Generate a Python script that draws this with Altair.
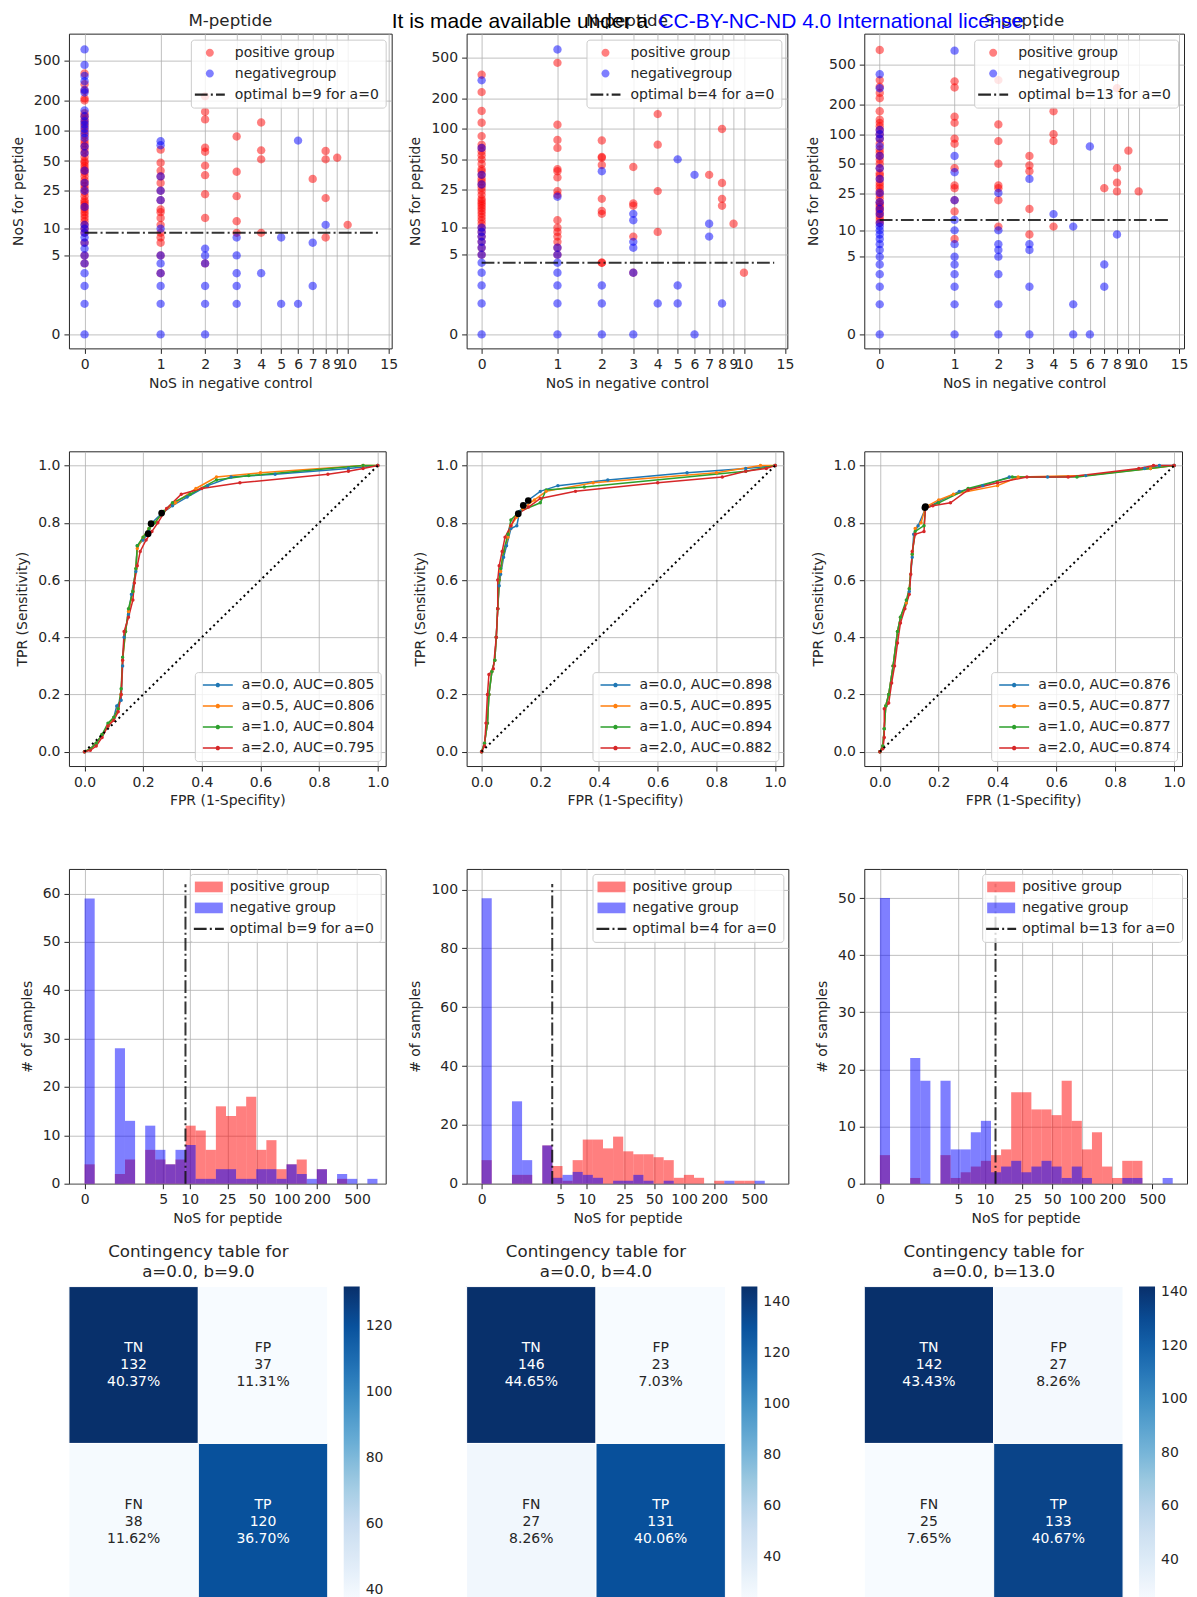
import math
import altair as alt
import pandas as pd

FONT = "DejaVu Sans"
INK = "#262626"
RED_A = "rgba(255,0,0,0.5)"
BLUE_A = "rgba(0,0,255,0.5)"
LINE_C = "rgba(0,0,0,0.85)"
TAB = ["#1f77b4", "#ff7f0e", "#2ca02c", "#d62728"]
BLUES = ["#f7fbff", "#deebf7", "#c6dbef", "#9ecae1", "#6baed6",
         "#4292c6", "#2171b5", "#08519c", "#08306b"]
DASHDOT = [12.8, 3.2, 2, 3.2]
DOTTED = [2, 3.3]

CIRCLE_PATH = "M0.8,0A0.8,0.8,0,1,1,-0.8,0A0.8,0.8,0,1,1,0.8,0Z"
DASHDOT_PATH = "M-3,-0.23H-0.44V0.23H-3Z M0.2,-0.23H0.6V0.23H0.2Z M1.24,-0.23H3V0.23H1.24Z"
PATCH_PATH = "M-2.8,-1.07H2.8V1.07H-2.8Z"
ROC_SYMBOL = "M-3,0H3M0.3,0A0.3,0.3,0,1,1,-0.3,0A0.3,0.3,0,1,1,0.3,0"

PEPTIDES = ["M-peptide", "N-peptide", "S-peptide"]
OPT_B = [9, 4, 13]
HLINE_X_END = 13.5

# ---------------- Row 1: scatter data  {NoS in negative control: [NoS for peptide]} -------------
M_POS = {0: [4, 5, 7, 9, 10, 11, 12, 13, 14, 15, 16, 17, 18, 19, 20, 22, 24, 26, 28, 30, 32, 35, 38, 40,
             42, 45, 48, 50, 55, 60, 65, 70, 75, 80, 90, 100, 110, 120, 130, 140, 150, 200, 210, 250, 290, 370],
         1: [3, 5, 7, 8, 9, 11, 13, 15, 16, 20, 25, 30, 35, 40, 48, 65],
         2: [4, 13, 23, 36, 45, 62, 68, 130, 155, 220],
         3: [9, 12, 22, 39, 88],
         4: [9, 52, 64, 121],
         7: [33],
         8: [8, 21, 52, 63],
         9: [54],
         10: [11]}
M_NEG = {0: [0, 1, 2, 3, 4, 5, 6, 7, 8, 9, 10, 11, 17, 25, 30, 40, 60, 70, 85, 95, 105, 115, 125, 140,
             160, 240, 255, 310, 350, 450, 640],
         1: [0, 1, 2, 3, 4, 5, 10, 20, 25, 35, 72, 79],
         2: [0, 1, 2, 4, 5, 6],
         3: [1, 2, 3, 5, 8],
         4: [3],
         5: [1, 8],
         6: [1, 80],
         7: [2, 7],
         8: [11]}
N_POS = {0: [5, 6, 7, 8, 9, 10, 11, 12, 13, 14, 15, 16, 17, 18, 19, 20, 22, 24, 26, 28, 30, 32, 35, 38,
             40, 45, 50, 55, 60, 65, 70, 85, 115, 150, 230, 340],
         1: [5, 6, 7, 8, 9, 10, 12, 22, 24, 33, 38, 40, 65, 78, 110, 445],
         2: [4, 4, 14, 15, 20, 44, 52, 53, 77],
         3: [3, 8, 17, 18, 42],
         4: [9, 24, 70, 140],
         7: [35],
         8: [17, 20, 29, 100],
         9: [11],
         10: [3]}
N_NEG = {0: [0, 1, 2, 3, 4, 5, 6, 7, 8, 9, 10, 28, 35, 65, 300],
         1: [0, 1, 2, 3, 4, 5, 6, 21, 600],
         2: [0, 1, 2, 38],
         3: [0, 3, 6, 7, 12, 14],
         4: [1],
         5: [1, 2, 50],
         6: [0, 35],
         7: [8, 11],
         8: [1]}
S_POS = {0: [12, 13, 14, 15, 16, 17, 18, 19, 20, 22, 24, 26, 28, 30, 32, 35, 38, 40, 45, 50, 55, 60, 65,
             70, 80, 90, 100, 110, 120, 130, 140, 170, 230, 260, 300, 350, 700],
         1: [8, 16, 21, 28, 30, 45, 80, 90, 130, 150, 295, 340],
         2: [11, 21, 28, 30, 50, 85, 125, 350],
         3: [9, 17, 42, 48, 60],
         4: [11, 85, 100, 170],
         7: [28],
         8: [26, 32, 45, 290],
         9: [68],
         10: [26]}
S_NEG = {0: [0, 1, 2, 3, 4, 5, 6, 7, 8, 9, 10, 11, 12, 15, 17, 20, 25, 35, 45, 60, 75, 90, 100, 110,
             290, 400],
         1: [0, 1, 2, 3, 4, 5, 7, 10, 13, 21, 41, 60, 690],
         2: [0, 1, 3, 5, 6, 7, 10, 25],
         3: [0, 2, 6, 7, 35],
         4: [15],
         5: [0, 1, 11],
         6: [0, 75],
         7: [2, 4],
         8: [9]}
SC_POS = [M_POS, N_POS, S_POS]
SC_NEG = [M_NEG, N_NEG, S_NEG]
SC_XTICKS = [0, 1, 2, 3, 4, 5, 6, 7, 8, 9, 10, 15]
SC_YTICKS = [0, 5, 10, 25, 50, 100, 200, 500]
SC_X_DOM = [[-0.153, 15.43], [-0.147, 15.35], [-0.154, 15.74]]
SC_Y_DOM = [[-0.373, 915], [-0.369, 858], [-0.38, 1022]]
SC_W = [323, 321, 320]

# ---------------- Row 2: ROC curves (FPR, TPR) ----------------
ROC_A = ["a=0.0", "a=0.5", "a=1.0", "a=2.0"]
AUC = [["0.805", "0.806", "0.804", "0.795"],
       ["0.898", "0.895", "0.894", "0.882"],
       ["0.876", "0.877", "0.877", "0.874"]]
M_ROC = [
    [(0, 0), (0.02, 0.01), (0.04, 0.03), (0.06, 0.06), (0.08, 0.09), (0.1, 0.12), (0.11, 0.16), (0.125, 0.18),
     (0.13, 0.3), (0.135, 0.4), (0.15, 0.48), (0.16, 0.55), (0.175, 0.63), (0.18, 0.72), (0.2, 0.74),
     (0.22, 0.77), (0.23, 0.8), (0.26, 0.83), (0.3, 0.86), (0.35, 0.89), (0.42, 0.93), (0.5, 0.96),
     (0.65, 0.97), (0.9, 0.99), (1, 1)],
    [(0, 0), (0.02, 0.01), (0.04, 0.03), (0.06, 0.06), (0.08, 0.09), (0.1, 0.12), (0.115, 0.15), (0.125, 0.2),
     (0.13, 0.32), (0.14, 0.42), (0.15, 0.49), (0.165, 0.56), (0.175, 0.64), (0.18, 0.71), (0.2, 0.75),
     (0.22, 0.78), (0.24, 0.8), (0.27, 0.84), (0.31, 0.87), (0.38, 0.92), (0.45, 0.96), (0.6, 0.975),
     (0.95, 1.0), (1, 1)],
    [(0, 0), (0.02, 0.01), (0.04, 0.03), (0.06, 0.06), (0.08, 0.1), (0.1, 0.12), (0.115, 0.15), (0.125, 0.22),
     (0.13, 0.33), (0.14, 0.42), (0.15, 0.5), (0.165, 0.56), (0.175, 0.64), (0.18, 0.72), (0.2, 0.75),
     (0.22, 0.78), (0.24, 0.8), (0.27, 0.84), (0.3, 0.87), (0.36, 0.9), (0.45, 0.95), (0.56, 0.965),
     (0.95, 1.0), (1, 1)],
    [(0, 0), (0.02, 0.005), (0.04, 0.02), (0.06, 0.05), (0.08, 0.09), (0.1, 0.11), (0.115, 0.14),
     (0.125, 0.2), (0.13, 0.32), (0.135, 0.42), (0.15, 0.47), (0.165, 0.53), (0.17, 0.59), (0.18, 0.65),
     (0.19, 0.7), (0.21, 0.74), (0.23, 0.77), (0.25, 0.8), (0.28, 0.85), (0.33, 0.9), (0.4, 0.92),
     (0.53, 0.94), (0.83, 0.97), (0.9, 0.98), (0.95, 0.99), (1, 1)],
]
N_ROC = [
    [(0, 0), (0.01, 0.03), (0.02, 0.1), (0.025, 0.2), (0.035, 0.28), (0.045, 0.32), (0.05, 0.4),
     (0.055, 0.5), (0.06, 0.58), (0.065, 0.62), (0.075, 0.68), (0.085, 0.72), (0.1, 0.78), (0.12, 0.79),
     (0.13, 0.84), (0.16, 0.88), (0.2, 0.91), (0.26, 0.93), (0.43, 0.95), (0.7, 0.975), (0.9, 0.99), (1, 1)],
    [(0, 0), (0.01, 0.03), (0.02, 0.1), (0.025, 0.2), (0.035, 0.28), (0.045, 0.32), (0.05, 0.4),
     (0.055, 0.5), (0.06, 0.6), (0.065, 0.63), (0.075, 0.7), (0.09, 0.75), (0.1, 0.79), (0.12, 0.82),
     (0.14, 0.85), (0.18, 0.88), (0.22, 0.91), (0.38, 0.94), (0.8, 0.975), (0.95, 1.0), (1, 1)],
    [(0, 0), (0.01, 0.03), (0.02, 0.1), (0.025, 0.2), (0.035, 0.28), (0.045, 0.32), (0.05, 0.4),
     (0.055, 0.5), (0.06, 0.6), (0.065, 0.64), (0.075, 0.7), (0.09, 0.76), (0.1, 0.81), (0.13, 0.84),
     (0.2, 0.87), (0.22, 0.915), (0.35, 0.925), (0.9, 0.98), (1, 1)],
    [(0, 0), (0.01, 0.02), (0.015, 0.1), (0.02, 0.2), (0.025, 0.27), (0.04, 0.29), (0.05, 0.4),
     (0.055, 0.5), (0.055, 0.6), (0.06, 0.65), (0.07, 0.7), (0.08, 0.75), (0.1, 0.79), (0.12, 0.83),
     (0.16, 0.855), (0.2, 0.885), (0.32, 0.91), (0.6, 0.94), (0.82, 0.96), (0.9, 0.98), (0.97, 0.99), (1, 1)],
]
S_ROC = [
    [(0, 0), (0.01, 0.02), (0.015, 0.08), (0.02, 0.16), (0.03, 0.2), (0.045, 0.3), (0.06, 0.42),
     (0.07, 0.47), (0.09, 0.52), (0.1, 0.56), (0.11, 0.68), (0.115, 0.76), (0.13, 0.79), (0.155, 0.85),
     (0.2, 0.875), (0.27, 0.91), (0.35, 0.93), (0.44, 0.96), (0.57, 0.96), (0.7, 0.965), (0.9, 0.99),
     (0.95, 1.0), (1, 1)],
    [(0, 0), (0.01, 0.02), (0.015, 0.08), (0.02, 0.16), (0.03, 0.2), (0.045, 0.3), (0.06, 0.42),
     (0.07, 0.47), (0.09, 0.52), (0.1, 0.57), (0.11, 0.69), (0.12, 0.78), (0.14, 0.8), (0.155, 0.855),
     (0.2, 0.88), (0.25, 0.9), (0.4, 0.93), (0.47, 0.96), (0.7, 0.965), (0.92, 0.99), (1, 1)],
    [(0, 0), (0.01, 0.02), (0.015, 0.08), (0.02, 0.16), (0.03, 0.2), (0.045, 0.3), (0.06, 0.42),
     (0.07, 0.47), (0.09, 0.53), (0.1, 0.57), (0.11, 0.69), (0.12, 0.77), (0.15, 0.79), (0.155, 0.85),
     (0.2, 0.87), (0.3, 0.92), (0.45, 0.96), (0.67, 0.96), (0.92, 0.99), (1, 1)],
    [(0, 0), (0.01, 0.01), (0.015, 0.05), (0.015, 0.15), (0.03, 0.17), (0.04, 0.24), (0.05, 0.3),
     (0.06, 0.38), (0.07, 0.45), (0.085, 0.5), (0.1, 0.55), (0.105, 0.62), (0.11, 0.7), (0.12, 0.76),
     (0.15, 0.77), (0.155, 0.85), (0.18, 0.86), (0.24, 0.87), (0.3, 0.915), (0.4, 0.94), (0.5, 0.96),
     (0.64, 0.96), (0.88, 0.99), (0.93, 1.0), (1, 1)],
]
ROC = [M_ROC, N_ROC, S_ROC]
ROC_OPT = [[(0.217, 0.762), (0.227, 0.797), (0.263, 0.834)],
           [(0.125, 0.832), (0.142, 0.861), (0.159, 0.878)],
           [(0.153, 0.853), (0.155, 0.857)]]
R_TICKS = [0.0, 0.2, 0.4, 0.6, 0.8, 1.0]
R_X_DOM = [[-0.053, 1.027], [-0.051, 1.028], [-0.053, 1.027]]
R_Y_DOM = [-0.05, 1.05]
R_W = [317, 317, 318]

# ---------------- Row 3: histograms (bins of equal width in log(1+NoS)) ----------------
BIN_W_LOG1P = 0.2305
M_HIST_POS = [4, 0, 0, 2, 5, 0, 7, 5, 4, 5, 12, 11, 7, 16, 14, 16, 18, 7, 9, 3, 4, 5, 0, 3, 0, 1, 0, 0, 0]
M_HIST_NEG = [59, 0, 0, 28, 13, 0, 12, 7, 4, 7, 8, 1, 1, 3, 3, 1, 1, 3, 3, 1, 4, 2, 1, 3, 0, 2, 1, 0, 1]
N_HIST_POS = [8, 0, 0, 3, 3, 0, 13, 6, 1, 8, 15, 15, 12, 16, 11, 10, 10, 9, 8, 2, 3, 2, 0, 1, 0, 1, 1, 0, 0]
N_HIST_NEG = [97, 0, 0, 28, 8, 0, 13, 2, 3, 4, 3, 2, 0, 1, 1, 3, 1, 0, 1, 0, 0, 0, 0, 0, 1, 0, 0, 1, 0]
S_HIST_POS = [5, 0, 0, 1, 0, 0, 5, 1, 2, 3, 4, 5, 6, 16, 16, 13, 13, 12, 18, 11, 6, 9, 3, 1, 4, 4, 0, 0, 0]
S_HIST_NEG = [50, 0, 0, 22, 18, 0, 18, 6, 6, 9, 11, 2, 3, 4, 2, 3, 4, 3, 1, 3, 1, 0, 0, 0, 1, 1, 0, 0, 1]
H_POS = [M_HIST_POS, N_HIST_POS, S_HIST_POS]
H_NEG = [M_HIST_NEG, N_HIST_NEG, S_HIST_NEG]
H_XTICKS = [0, 5, 10, 25, 50, 100, 200, 500]
H_YTICKS = [[0, 10, 20, 30, 40, 50, 60], [0, 20, 40, 60, 80, 100], [0, 10, 20, 30, 40, 50]]
H_X_DOM = [[-0.429, 964], [-0.408, 1086], [-0.429, 1107]]
H_Y_MAX = [65.1, 107.0, 55.1]
H_W = [317, 322, 323]

# ---------------- Row 4: contingency tables ----------------
CM_NAMES = ["TN", "FP", "FN", "TP"]
CM_VALUES = [[132, 37, 38, 120], [146, 23, 27, 131], [142, 27, 25, 133]]
CM_PCT = [["40.37%", "11.31%", "11.62%", "36.70%"],
          ["44.65%", "7.03%", "8.26%", "40.06%"],
          ["43.43%", "8.26%", "7.65%", "40.67%"]]
CM_B = ["9.0", "4.0", "13.0"]
CB_TICKS = [[40, 60, 80, 100, 120], [40, 60, 80, 100, 120, 140], [40, 60, 80, 100, 120, 140]]

LICENSE = [("It is made available under a", "#000000", -75),
           ("CC-BY-NC-ND 4.0 International license", "#0000ff", 192),
           (".", "#000000", 566)]

ROW_H = 315
ROW_GAP = 103
COL_GAP = 75
LICENSE_BASELINE = -6 - (ROW_H + ROW_GAP)   # relative to the second-row plot top


def box_legend(orient, **kw):
    base = dict(title=None, orient=orient, offset=6, symbolSize=100, symbolOffset=6, labelOffset=14,
                padding=6, rowPadding=7, fillColor="rgba(255,255,255,0.8)", strokeColor="#cccccc",
                cornerRadius=3, labelFontSize=14, labelColor=INK, labelLimit=0, symbolOpacity=1)
    base.update(kw)
    return alt.Legend(**base)


def scatter_cell(i):
    b = OPT_B[i]
    labels = ["positive group", "negativegroup", f"optimal b={b} for a=0"]
    rows = []
    for x, ys in SC_POS[i].items():
        rows += [{"x": x, "y": y, "g": labels[0]} for y in ys]
    for x, ys in SC_NEG[i].items():
        rows += [{"x": x, "y": y, "g": labels[1]} for y in ys]
    df = pd.DataFrame(rows)
    X = alt.X("x:Q", scale=alt.Scale(type="symlog", constant=1, domain=SC_X_DOM[i], nice=False, zero=False),
              axis=alt.Axis(values=SC_XTICKS, title="NoS in negative control"))
    Y = alt.Y("y:Q", scale=alt.Scale(type="symlog", constant=1, domain=SC_Y_DOM[i], nice=False, zero=False),
              axis=alt.Axis(values=SC_YTICKS, title="NoS for peptide"))
    leg = box_legend("top-right", symbolStrokeWidth=0, labelOffset=18)
    pts = alt.Chart(df).mark_point(filled=True, size=110, opacity=1, strokeWidth=0).encode(
        x=X, y=Y,
        color=alt.Color("g:N", scale=alt.Scale(domain=labels, range=[RED_A, BLUE_A, LINE_C]), legend=leg),
        shape=alt.Shape("g:N", scale=alt.Scale(domain=labels, range=[CIRCLE_PATH, CIRCLE_PATH, DASHDOT_PATH]),
                        legend=leg),
    )
    hline = alt.Chart(pd.DataFrame({"x": [0, HLINE_X_END], "y": [b, b]})).mark_line(
        color="#111111", opacity=0.85, strokeWidth=2, strokeDash=DASHDOT).encode(x=X, y=Y)
    return alt.layer(pts, hline).properties(
        width=SC_W[i], height=ROW_H, title=alt.TitleParams(PEPTIDES[i], offset=4))


def roc_cell(i):
    labels = [f"{a}, AUC={auc}" for a, auc in zip(ROC_A, AUC[i])]
    rows = []
    for j, curve in enumerate(ROC[i]):
        for k, (f, t) in enumerate(curve):
            rows.append({"fpr": f, "tpr": t, "c": labels[j], "k": k})
    df = pd.DataFrame(rows)
    X = alt.X("fpr:Q", scale=alt.Scale(domain=R_X_DOM[i], nice=False, zero=False),
              axis=alt.Axis(values=R_TICKS, format=".1f", title="FPR (1-Specifity)"))
    Y = alt.Y("tpr:Q", scale=alt.Scale(domain=R_Y_DOM, nice=False, zero=False),
              axis=alt.Axis(values=R_TICKS, format=".1f", title="TPR (Sensitivity)"))
    leg = box_legend("bottom-right", symbolType=ROC_SYMBOL, symbolStrokeWidth=1.5,
                     symbolOffset=10, labelOffset=17, offset=5)
    lines = alt.Chart(df).mark_line(strokeWidth=1.5, point=alt.OverlayMarkDef(filled=True, size=12)).encode(
        x=X, y=Y, order="k:Q",
        color=alt.Color("c:N", scale=alt.Scale(domain=labels, range=TAB), legend=leg),
    )
    diag = alt.Chart(pd.DataFrame({"fpr": [0, 1], "tpr": [0, 1]})).mark_line(
        color="black", strokeWidth=2, strokeDash=DOTTED).encode(x=X, y=Y)
    opt = alt.Chart(pd.DataFrame(ROC_OPT[i], columns=["fpr", "tpr"])).mark_point(
        filled=True, color="black", size=45, opacity=1).encode(x=X, y=Y)
    layers = [lines, diag, opt]
    if i == 1:
        # preprint licence banner at the very top of the page
        for txt, col, px in LICENSE:
            layers.append(alt.Chart(pd.DataFrame({"t": [txt]})).mark_text(
                align="left", baseline="alphabetic", font="Liberation Sans", fontSize=21, color=col
            ).encode(x=alt.value(px), y=alt.value(LICENSE_BASELINE), text="t:N"))
    return alt.layer(*layers).properties(width=R_W[i], height=ROW_H)


def hist_cell(i):
    b = OPT_B[i]
    labels = ["positive group", "negative group", f"optimal b={b} for a=0"]

    def bars(counts):
        rows = []
        for k, c in enumerate(counts):
            if c > 0:
                rows.append({"lo": math.expm1(k * BIN_W_LOG1P), "hi": math.expm1((k + 1) * BIN_W_LOG1P),
                             "n": c, "z": 0})
        return pd.DataFrame(rows)

    X = alt.X("lo:Q", scale=alt.Scale(type="symlog", constant=1, domain=H_X_DOM[i], nice=False, zero=False),
              axis=alt.Axis(values=H_XTICKS, title="NoS for peptide"))
    Y = alt.Y("n:Q", scale=alt.Scale(domain=[0, H_Y_MAX[i]], nice=False),
              axis=alt.Axis(values=H_YTICKS[i], title="# of samples"))
    pos = alt.Chart(bars(H_POS[i])).mark_rect(color=RED_A).encode(x=X, x2="hi:Q", y=Y, y2="z:Q")
    neg = alt.Chart(bars(H_NEG[i])).mark_rect(color=BLUE_A).encode(x=X, x2="hi:Q", y=Y, y2="z:Q")
    vmax = 1.05 * max(max(H_POS[i]), max(H_NEG[i]))
    vline = alt.Chart(pd.DataFrame({"lo": [b, b], "n": [0, vmax]})).mark_line(
        color="#111111", opacity=0.85, strokeWidth=2, strokeDash=DASHDOT).encode(x=X, y=Y)
    leg = box_legend("top-right", symbolStrokeWidth=0, offset=5)
    key = alt.Chart(pd.DataFrame({"g": labels})).mark_point(filled=True, opacity=1, clip=True).encode(
        x=alt.value(10), y=alt.value(-60),
        color=alt.Color("g:N", scale=alt.Scale(domain=labels, range=[RED_A, BLUE_A, LINE_C]), legend=leg),
        shape=alt.Shape("g:N", scale=alt.Scale(domain=labels, range=[PATCH_PATH, PATCH_PATH, DASHDOT_PATH]),
                        legend=leg),
    )
    return alt.layer(pos, neg, vline, key).properties(width=H_W[i], height=ROW_H)


def cm_cell(i):
    vals = CM_VALUES[i]
    vmin, vmax = min(vals), max(vals)
    dom = [vmin + (vmax - vmin) * t / 8 for t in range(9)]
    df = pd.DataFrame({
        "col": [0, 1, 0, 1], "row": [0, 0, 1, 1], "v": vals,
        "txt": [f"{n}\n{v}\n{p}" for n, v, p in zip(CM_NAMES, vals, CM_PCT[i])],
    })
    X = alt.X("col:O", axis=None, scale=alt.Scale(paddingInner=0, paddingOuter=0))
    Y = alt.Y("row:O", axis=None, scale=alt.Scale(paddingInner=0, paddingOuter=0))
    rect = alt.Chart(df).mark_rect(stroke="white", strokeWidth=1).encode(
        x=X, y=Y,
        color=alt.Color("v:Q", scale=alt.Scale(domain=dom, range=BLUES),
                        legend=alt.Legend(title=None, orient="right", direction="vertical", gradientLength=314,
                                          gradientThickness=16, offset=16, values=CB_TICKS[i], labelFontSize=14,
                                          labelOffset=6, padding=0, gradientStrokeWidth=0, labelColor=INK)),
    )
    mid = (vmin + vmax) / 2
    dark = df[df["v"] > mid]
    light = df[df["v"] <= mid]
    t1 = alt.Chart(dark).mark_text(lineBreak="\n", fontSize=14, lineHeight=17, dy=-17, color="white").encode(
        x=X, y=Y, text="txt:N")
    t2 = alt.Chart(light).mark_text(lineBreak="\n", fontSize=14, lineHeight=17, dy=-17, color=INK).encode(
        x=X, y=Y, text="txt:N")
    return alt.layer(rect, t1, t2).properties(
        width=259, height=314, view=alt.ViewBackground(strokeWidth=0),
        title=alt.TitleParams(["Contingency table for", f"a=0.0, b={CM_B[i]}"], offset=5, lineHeight=20))


cells = ([scatter_cell(i) for i in range(3)] + [roc_cell(i) for i in range(3)] +
         [hist_cell(i) for i in range(3)] + [cm_cell(i) for i in range(3)])

chart = alt.concat(*cells, columns=3, spacing={"row": ROW_GAP, "column": COL_GAP}, bounds="flush",
                   align="all").resolve_scale(
    color="independent", shape="independent"
).resolve_legend(
    color="independent", shape="independent"
).properties(
    padding={"left": 2, "top": 1, "right": 0, "bottom": 0}, background="white"
).configure(font=FONT).configure_axis(
    labelFont=FONT, titleFont=FONT, labelFontSize=14, titleFontSize=14, titleFontWeight="normal",
    labelColor=INK, titleColor=INK, tickColor=INK, tickSize=5, labelPadding=4,
    gridColor="#b0b0b0", gridWidth=0.8, domain=False, labelOverlap=False, labelFlush=False,
).configure_axisX(titlePadding=5).configure_axisY(titlePadding=8).configure_view(
    stroke=INK, strokeWidth=1
).configure_title(font=FONT, fontSize=16.7, fontWeight="normal", color=INK).configure_legend(
    labelFont=FONT, labelFontSize=14, labelColor=INK
)

chart.save("out.html", embed_options={"renderer": "svg", "actions": False})
